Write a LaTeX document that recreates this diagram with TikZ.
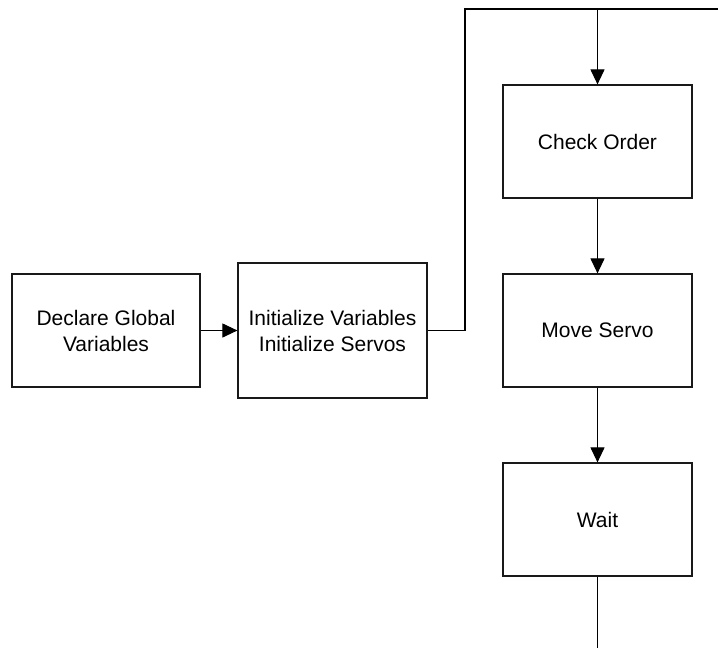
\documentclass[tikz,border=0pt]{standalone}
\usepackage{fontspec}
\setmainfont{Liberation Sans}
\usetikzlibrary{arrows.meta,calc}
\begin{document}
\begin{tikzpicture}[x=1pt,y=-1pt,
  block/.style={draw=black!90, line width=1.2pt, rectangle, minimum width=189pt,
    minimum height=113pt, inner sep=0pt, align=center,
    font=\fontsize{21}{26}\selectfont},
  link/.style={draw=black, line width=1.1pt},
  flow/.style={link, -{Triangle[width=14pt,length=15pt,fill=black]}}]
\useasboundingbox (0,0) rectangle (718,648);

% process blocks
\node[block, minimum width=188pt] (decl) at (106,330.5) {Declare Global\\Variables};
\node[block, minimum height=135pt] (init) at (332.5,330.5) {Initialize Variables\\Initialize Servos};
\node[block] (check) at (597.5,141.5) {Check Order};
\node[block] (move) at (597.5,330.5) {Move Servo};
\node[block] (wait) at (597.5,519.5) {Wait};

% helper points for the loop line
\coordinate (bend) at (465,9);
\coordinate (edgeR) at (718,9);
\coordinate (join) at (check.north |- edgeR);
\coordinate (tail) at ($(wait.south)+(0,72)$);

% connectors
\draw[flow] (decl) -- (init);
\draw[link] (init.east) -| (bend) -- (edgeR);
\draw[flow] (join) -- (check.north);
\draw[flow] (check) -- (move);
\draw[flow] (move) -- (wait);
\draw[link] (wait.south) -- (tail);
\end{tikzpicture}
\end{document}
